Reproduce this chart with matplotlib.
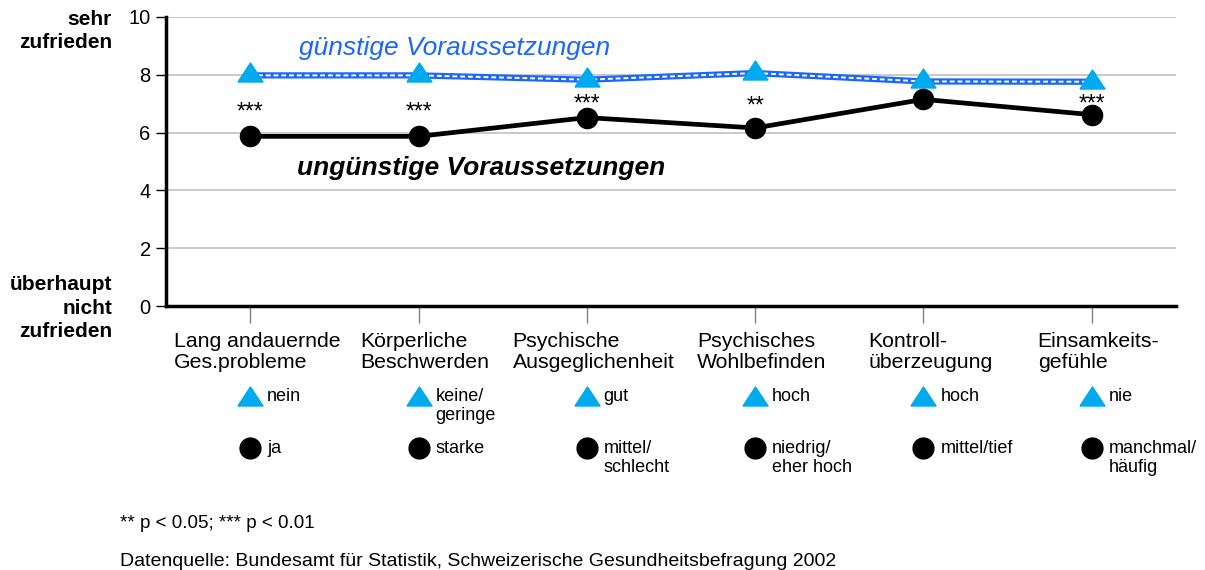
import numpy as np
import matplotlib
matplotlib.use('Agg')
import matplotlib.pyplot as plt
from matplotlib.transforms import offset_copy

plt.rcParams['font.family'] = ['Liberation Sans', 'DejaVu Sans']

# data
categories = ['Lang andauernde\nGes.probleme', 'Körperliche\nBeschwerden', 'Psychische\nAusgeglichenheit',
              'Psychisches\nWohlbefinden', 'Kontroll-\nüberzeugung', 'Einsamkeits-\ngefühle']
favourable = [7.98, 7.98, 7.83, 8.06, 7.77, 7.76]
unfavourable = [5.87, 5.87, 6.52, 6.16, 7.15, 6.62]
significance = ['***', '***', '***', '**', '', '***']
favourable_labels = ['nein', 'keine/\ngeringe', 'gut', 'hoch', 'hoch', 'nie']
unfavourable_labels = ['ja', 'starke', 'mittel/\nschlecht', 'niedrig/\neher hoch', 'mittel/tief', 'manchmal/\nhäufig']
y_ticks = [0, 2, 4, 6, 8, 10]

TRI_COLOR = '#00aaee'
LINE_BLUE = '#1a66ff'
# wide, flat triangle like the original spreadsheet marker
TRIANGLE = [(-1, -0.76), (1, -0.76), (0, 0.76), (-1, -0.76)]

fig = plt.figure(figsize=(12.05, 5.70), dpi=100)
ax = fig.add_axes([166/1205, 1 - 306/570, (1176 - 166)/1205, (306 - 17)/570])

x = np.arange(len(categories))

# grid
ax.set_ylim(0, 10)
ax.set_xlim(-0.5, len(categories) - 0.5)
ax.set_yticks(y_ticks)
ax.yaxis.grid(True, color='#c0c0c0', lw=1.2)
ax.set_axisbelow(True)
for s in ['top', 'right']:
    ax.spines[s].set_visible(False)
ax.spines['left'].set_linewidth(2.5)
ax.spines['bottom'].set_linewidth(2.5)
ax.tick_params(axis='y', length=7, width=1, labelsize=14.5, pad=4)
ax.set_xticks(x)
ax.set_xticklabels([])
ax.tick_params(axis='x', length=12, width=1, color='#808080', pad=0)

# favourable line: blue with white dashed inner pattern
ax.plot(x, favourable, color=LINE_BLUE, lw=4.5, zorder=3, solid_capstyle='butt')
ax.plot(x, favourable, color='white', lw=1.4, ls=(0, (2.5, 1.5)), zorder=3.5)
tri_trans = offset_copy(ax.transData, fig=fig, y=3, units='dots')
ax.plot(x, favourable, ls='none', marker=TRIANGLE, ms=18, color=TRI_COLOR, zorder=4,
        transform=tri_trans)

# unfavourable line
ax.plot(x, unfavourable, color='black', lw=3.4, marker='o', ms=14.5, zorder=4)

# significance stars between the two series
for xi, f, u, s in zip(x, favourable, unfavourable, significance):
    if s:
        ax.text(xi, (f + u) / 2 - 0.2, s, ha='center', va='center', fontsize=16.5)

ax.text(0.29, 8.68, 'günstige Voraussetzungen', color=LINE_BLUE, fontsize=19, style='italic',
        ha='left', va='baseline')
ax.text(0.28, 4.53, 'ungünstige Voraussetzungen', color='black', fontsize=19, style='italic',
        fontweight='bold', ha='left', va='baseline')

# category labels and legend items below the axis
trans = ax.get_xaxis_transform()
for xi, cat, fl, ul in zip(x, categories, favourable_labels, unfavourable_labels):
    ax.text(xi + 0.04, -0.09, cat, transform=trans, ha='center', va='top', multialignment='left',
            fontsize=15.3, linespacing=1.15)
    ax.plot(xi, -0.31, marker=TRIANGLE, ms=18, color=TRI_COLOR, transform=trans, clip_on=False)
    ax.plot(xi, -0.49, marker='o', ms=15, color='black', transform=trans, clip_on=False)
    ax.text(xi + 0.1, -0.283, fl, transform=trans, ha='left', va='top', fontsize=13, linespacing=1.2)
    ax.text(xi + 0.1, -0.463, ul, transform=trans, ha='left', va='top', fontsize=13, linespacing=1.2)

# y-axis end labels
fig.text(112/1205, 1 - 10/570, 'sehr\nzufrieden', ha='right', va='top', fontsize=15,
         fontweight='bold', linespacing=1.3)
fig.text(112/1205, 1 - 308/570, 'überhaupt\nnicht\nzufrieden', ha='right', va='center', fontsize=15,
         fontweight='bold', linespacing=1.3)

# footnotes
fig.text(120/1205, 1 - 523/570, '** p < 0.05; *** p < 0.01', ha='left', va='center', fontsize=13.5)
fig.text(120/1205, 1 - 562/570,
         'Datenquelle: Bundesamt für Statistik, Schweizerische Gesundheitsbefragung 2002',
         ha='left', va='center', fontsize=14)

fig.savefig('out.png', dpi=100)
